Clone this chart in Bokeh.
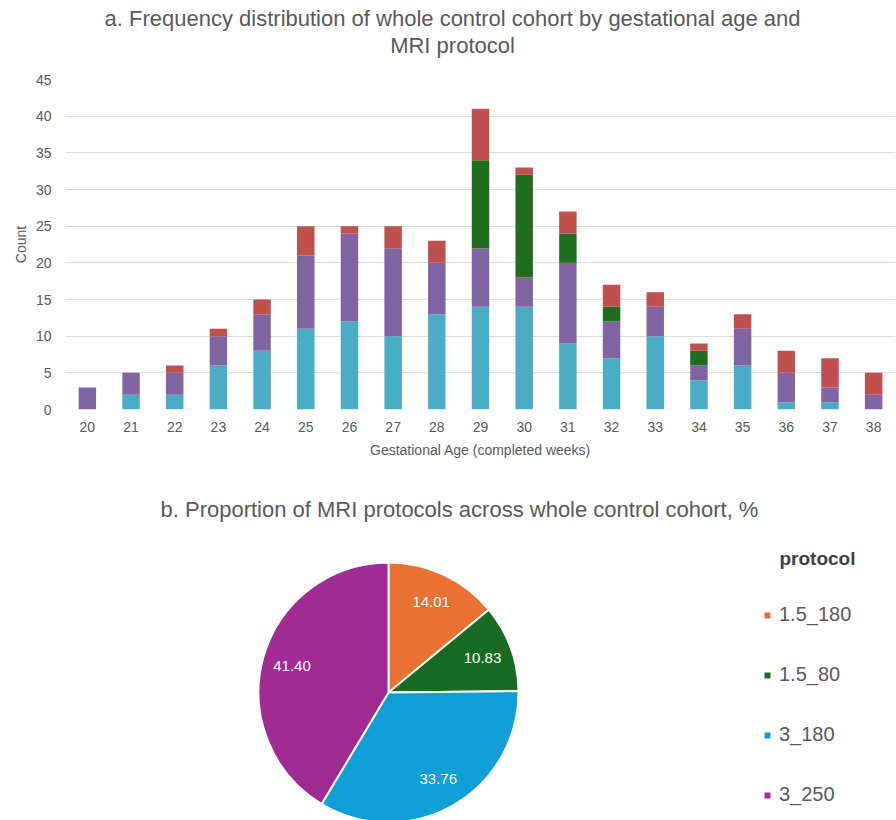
import math

from bokeh.core.properties import value
from bokeh.embed import file_html
from bokeh.layouts import column
from bokeh.models import (ColumnDataSource, FactorRange, Label, LabelSet, Legend,
                          LegendItem, Range1d, Title)
from bokeh.plotting import figure
from bokeh.resources import INLINE

# ---- data -------------------------------------------------------------------
weeks = [str(w) for w in range(20, 39)]

# counts per completed gestational week, one list per MRI protocol
n_3_250 = [0, 2, 2, 6, 8, 11, 12, 10, 13, 14, 14, 9, 7, 10, 4, 6, 1, 1, 0]
n_3_180 = [3, 3, 3, 4, 5, 10, 12, 12, 7, 8, 4, 11, 5, 4, 2, 5, 4, 2, 2]
n_15_80 = [0, 0, 0, 0, 0, 0, 0, 0, 0, 12, 14, 4, 2, 0, 2, 0, 0, 0, 0]
n_15_180 = [0, 0, 1, 1, 2, 4, 1, 3, 3, 7, 1, 3, 3, 2, 1, 2, 3, 4, 3]

protocols = ["1.5_180", "1.5_80", "3_180", "3_250"]
y_ticks = list(range(0, 50, 5))

# ---- styling ----------------------------------------------------------------
TXT = "#595959"
FONT = "Liberation Sans"
BAR_COLORS = ["#4BACC6", "#8064A2", "#1E6E1E", "#C0504D"]
PIE_COLORS = ["#E97132", "#196B24", "#0F9ED5", "#A02B93"]

W = 896
FL, FR = 65, 895          # shared left/right frame edges of all panels


def blank(height, top=0, bottom=0, x_range=None, y_range=None):
    p = figure(width=W, height=height, title=None, output_backend="svg",
               toolbar_location=None, x_range=x_range, y_range=y_range,
               min_border_left=FL, min_border_right=W - FR,
               min_border_top=top, min_border_bottom=bottom)
    p.axis.visible = False
    p.grid.visible = False
    p.outline_line_color = None
    return p


# ---- heading strip (two centred lines, coordinates in pixels) -----------------
HEAD_H = 60
head = blank(HEAD_H, x_range=Range1d(FL, FR), y_range=Range1d(0, HEAD_H))
for line, y_px in (("a. Frequency distribution of whole control cohort by "
                    "gestational age and", 18),
                   ("MRI protocol", 45)):
    head.add_layout(Label(x=452, y=HEAD_H - y_px, text=line,
                          text_align="center", text_baseline="middle",
                          text_font=FONT, text_font_size="22px",
                          text_color=TXT))

# ---- a. stacked bars ----------------------------------------------------------
src = ColumnDataSource(dict(week=weeks, s3_250=n_3_250, s3_180=n_3_180,
                            s15_80=n_15_80, s15_180=n_15_180))

bars = figure(width=W, height=470 - HEAD_H, title=None,
              x_range=FactorRange(*weeks, range_padding=0),
              y_range=Range1d(0, 45), output_backend="svg",
              toolbar_location=None,
              min_border_left=FL, min_border_right=W - FR,
              min_border_top=79 - HEAD_H, min_border_bottom=61)
bars.vbar_stack(["s3_250", "s3_180", "s15_80", "s15_180"], x="week", width=0.4,
                color=BAR_COLORS, line_color=None, source=src)

bars.outline_line_color = None
bars.xgrid.grid_line_color = None
bars.ygrid.grid_line_color = "#dcdcdc"
bars.ygrid.grid_line_width = 1
bars.yaxis.ticker = y_ticks
for ax in (bars.xaxis[0], bars.yaxis[0]):
    ax.axis_line_color = None
    ax.major_tick_line_color = None
    ax.minor_tick_line_color = None
    ax.major_label_text_font = FONT
    ax.major_label_text_font_size = "14px"
    ax.major_label_text_color = TXT
    ax.axis_label_text_font = FONT
    ax.axis_label_text_font_size = "14px"
    ax.axis_label_text_font_style = "normal"
    ax.axis_label_text_color = TXT
bars.xaxis.major_label_standoff = 6
bars.xaxis.axis_label = "Gestational Age (completed weeks)"
bars.xaxis.axis_label_standoff = 7
bars.yaxis.major_label_standoff = 8
bars.yaxis.axis_label = "Count"
bars.yaxis.axis_label_standoff = 4

# ---- b. pie of protocol shares --------------------------------------------------
counts = [sum(n_15_180), sum(n_15_80), sum(n_3_180), sum(n_3_250)]
total = sum(counts)
shares = [100.0 * c / total for c in counts]

# slices run clockwise from 12 o'clock
starts, ends, mids = [], [], []
acc = 0.0
for s in shares:
    a0 = math.pi / 2 - 2 * math.pi * acc / 100.0
    acc += s
    a1 = math.pi / 2 - 2 * math.pi * acc / 100.0
    starts.append(a1)
    ends.append(a0)
    mids.append((a0 + a1) / 2)

LABEL_R = 0.77
pie_src = ColumnDataSource(dict(
    protocol=protocols, share=shares, start=starts, end=ends, color=PIE_COLORS,
    lx=[LABEL_R * math.cos(m) for m in mids],
    ly=[LABEL_R * math.sin(m) for m in mids],
    txt=["%.2f" % s for s in shares],
))

# pixel geometry of the lower panel (S = pixels per pie radius)
H, TOP = 350, 55
CX, CY, S = 388, 222, 130
pie = blank(H, top=TOP,
            x_range=Range1d((FL - CX) / S, (FR - CX) / S),
            y_range=Range1d(-(H - CY) / S, (CY - TOP) / S))
pie.add_layout(Title(text="b. Proportion of MRI protocols across whole control "
                          "cohort, %",
                     align="left", offset=95, standoff=8, text_font=FONT,
                     text_font_size="22px", text_font_style="normal",
                     text_color=TXT), "above")

wedges = pie.wedge(x=0, y=0, radius=1, start_angle="start", end_angle="end",
                   fill_color="color", line_color="white", line_width=2,
                   source=pie_src)
pie.add_layout(LabelSet(x="lx", y="ly", text="txt", source=pie_src,
                        text_align="center", text_baseline="middle",
                        text_color="white", text_font=value(FONT),
                        text_font_size="15px"))

legend = Legend(items=[LegendItem(label=p, renderers=[wedges], index=i)
                       for i, p in enumerate(protocols)],
                location=(762 - FL, 14), orientation="vertical",
                glyph_width=10, glyph_height=10, label_height=20,
                label_standoff=7, spacing=37, padding=0, margin=0,
                border_line_color=None, background_fill_alpha=0,
                label_text_font=FONT, label_text_font_size="20px",
                label_text_color=TXT)
pie.add_layout(legend)
pie.add_layout(Label(x=(779 - CX) / S, y=(CY - 88) / S, text="protocol",
                     text_font=FONT, text_font_size="19px", text_font_style="bold",
                     text_color="#404040", text_baseline="middle"))

layout = column(head, bars, pie, spacing=0)
open("out.html", "w").write(file_html(layout, INLINE))
